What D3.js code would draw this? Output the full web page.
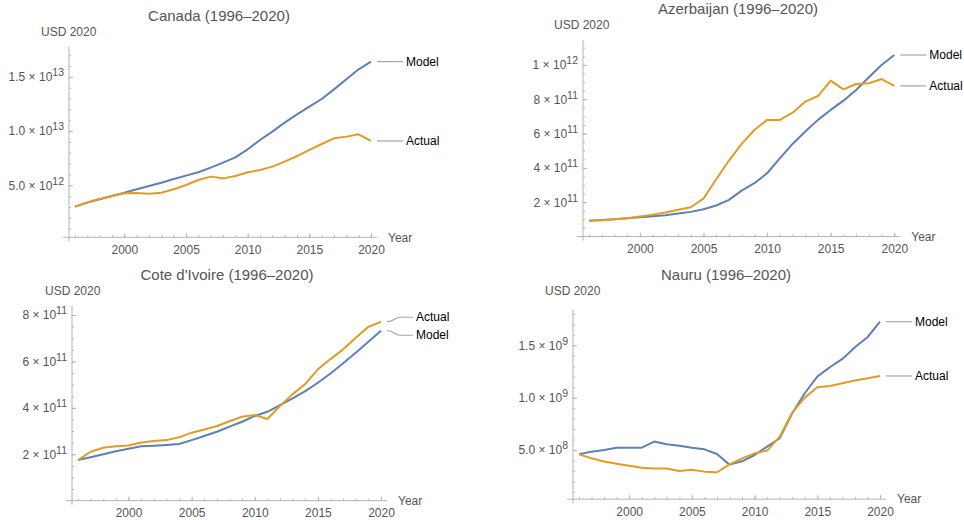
<!DOCTYPE html>
<meta charset="utf-8">
<style>
    body { margin: 0; background: #fff; }
    svg { font-family: 'Liberation Sans', Arial, sans-serif; }
    .title { font-size: 15px; fill: #555; text-anchor: middle; }
    .unit { font-size: 12px; fill: #555; }
    .tick text { font-size: 12px; fill: #555; }
    .tick line, .axisline { stroke: #b3b3b3; stroke-width: 1; }
    .series { fill: none; stroke-width: 2; stroke-linejoin: round; }
    .callout { fill: none; stroke: #a6a6a6; stroke-width: 1.2; }
    .lbl { font-size: 12px; fill: #000; }
</style>
<svg width="964" height="520"></svg>
<script src="https://d3js.org/d3.v7.min.js"></script>
<script>
    var years = [1996, 1997, 1998, 1999, 2000, 2001, 2002, 2003, 2004, 2005, 2006, 2007, 2008,
                 2009, 2010, 2011, 2012, 2013, 2014, 2015, 2016, 2017, 2018, 2019, 2020];
    var yearTicks = [2000, 2005, 2010, 2015, 2020];

    // Canada, USD
    var canadaModel = [3.03e12, 3.40e12, 3.71e12, 4.01e12, 4.32e12, 4.63e12, 4.94e12, 5.24e12, 5.58e12,
                       5.89e12, 6.20e12, 6.63e12, 7.09e12, 7.58e12, 8.32e12, 9.18e12, 9.95e12, 10.78e12,
                       11.55e12, 12.26e12, 12.96e12, 13.85e12, 14.78e12, 15.70e12, 16.41e12];
    var canadaActual = [3.03e12, 3.43e12, 3.74e12, 4.01e12, 4.26e12, 4.29e12, 4.23e12, 4.32e12, 4.63e12,
                        5.03e12, 5.49e12, 5.80e12, 5.64e12, 5.86e12, 6.20e12, 6.41e12, 6.72e12, 7.18e12,
                        7.70e12, 8.26e12, 8.81e12, 9.33e12, 9.49e12, 9.70e12, 9.09e12];

    // Azerbaijan, USD
    var azerModel = [0.93e11, 0.97e11, 1.01e11, 1.07e11, 1.13e11, 1.18e11, 1.24e11, 1.34e11, 1.44e11,
                     1.59e11, 1.81e11, 2.14e11, 2.68e11, 3.11e11, 3.69e11, 4.56e11, 5.40e11, 6.12e11,
                     6.80e11, 7.38e11, 7.92e11, 8.54e11, 9.28e11, 10.0e11, 10.58e11];
    var azerActual = [0.93e11, 0.95e11, 1.01e11, 1.07e11, 1.17e11, 1.28e11, 1.40e11, 1.57e11, 1.71e11,
                      2.21e11, 3.34e11, 4.43e11, 5.40e11, 6.21e11, 6.80e11, 6.80e11, 7.22e11, 7.86e11,
                      8.19e11, 9.09e11, 8.58e11, 8.89e11, 8.93e11, 9.18e11, 8.78e11];

    // Cote d'Ivoire, USD
    var coteModel = [1.75e11, 1.87e11, 2.00e11, 2.13e11, 2.24e11, 2.35e11, 2.37e11, 2.40e11, 2.44e11,
                     2.61e11, 2.79e11, 2.97e11, 3.19e11, 3.40e11, 3.65e11, 3.83e11, 4.12e11, 4.41e11,
                     4.72e11, 5.08e11, 5.48e11, 5.92e11, 6.37e11, 6.85e11, 7.32e11];
    var coteActual = [1.75e11, 2.11e11, 2.28e11, 2.35e11, 2.38e11, 2.51e11, 2.57e11, 2.61e11, 2.73e11,
                      2.93e11, 3.07e11, 3.22e11, 3.42e11, 3.62e11, 3.69e11, 3.52e11, 4.08e11, 4.59e11,
                      5.03e11, 5.66e11, 6.10e11, 6.52e11, 7.02e11, 7.49e11, 7.71e11];

    // Nauru, USD
    var nauruModel = [4.59e8, 4.84e8, 5.00e8, 5.22e8, 5.22e8, 5.22e8, 5.80e8, 5.54e8, 5.41e8,
                      5.22e8, 5.06e8, 4.62e8, 3.60e8, 3.92e8, 4.52e8, 5.32e8, 6.12e8, 8.50e8,
                      10.42e8, 12.01e8, 12.90e8, 13.70e8, 14.81e8, 15.77e8, 17.26e8];
    var nauruActual = [4.59e8, 4.20e8, 3.89e8, 3.69e8, 3.50e8, 3.31e8, 3.22e8, 3.22e8, 2.99e8,
                       3.12e8, 2.93e8, 2.87e8, 3.63e8, 4.20e8, 4.68e8, 4.94e8, 6.27e8, 8.57e8,
                       10.0e8, 10.99e8, 11.12e8, 11.37e8, 11.63e8, 11.85e8, 12.07e8];

    var modelColor = "#5e81b5",
        actualColor = "#e19c24";

    var panels = [
        { title: "Canada (1996\u20132020)", model: canadaModel, actual: canadaActual,
          x0: 75, x1: 371, yZero: 239.5, unit: 5e12, unitPx: 54.2, axisVal: 0.2e12, top: 1.78e13,
          major: [5e12, 1e13, 1.5e13], minorStep: 1e12, dec: 1,
          titleX: 219, titleY: 21, usdX: 41, usdY: 36 },
        { title: "Azerbaijan (1996\u20132020)", model: azerModel, actual: azerActual,
          x0: 589, x1: 894.3, yZero: 236.6, unit: 2e11, unitPx: 34.33, axisVal: 0, top: 1.146e12,
          major: [2e11, 4e11, 6e11, 8e11, 1e12], minorStep: 0.5e11, dec: 0,
          titleX: 738, titleY: 14, usdX: 554, usdY: 28.5 },
        { title: "Cote d'Ivoire (1996\u20132020)", model: coteModel, actual: coteActual,
          x0: 78, x1: 381, yZero: 500.7, unit: 2e11, unitPx: 46.43, axisVal: 0, top: 8.4e11,
          major: [2e11, 4e11, 6e11, 8e11], minorStep: 0.5e11, dec: 0,
          titleX: 227, titleY: 280, usdX: 45, usdY: 295 },
        { title: "Nauru (1996\u20132020)", model: nauruModel, actual: nauruActual,
          x0: 579, x1: 880, yZero: 502.3, unit: 5e8, unitPx: 52.33, axisVal: 3e7, top: 1.84e9,
          major: [5e8, 1e9, 1.5e9], minorStep: 1e8, dec: 1,
          titleX: 726, titleY: 280, usdX: 545, usdY: 295 }
    ];

    var svg = d3.select("svg");

    function sciLabel(sel, dec) {
        sel.each(function(v) {
            var e = Math.floor(Math.log10(v) + 1e-9);
            var m = v / Math.pow(10, e);
            var t = d3.select(this).text(null);
            t.append("tspan").text(m.toFixed(dec) + " \u00d7 10");
            t.append("tspan").attr("dy", "-5").style("font-size", "10.5px").text(e);
        });
    }

    function drawPanel(p) {
        var x = d3.scaleLinear().domain([1996, 2020]).range([p.x0, p.x1]);
        var y = d3.scaleLinear().domain([0, p.unit]).range([p.yZero, p.yZero - p.unitPx]);
        var g = svg.append("g");
        var ay = y(p.axisVal),
            ax = p.x0 - 6;

        // axis lines
        g.append("line").attr("class", "axisline")
            .attr("x1", p.x0 - 12).attr("x2", p.x1 + 6)
            .attr("y1", ay).attr("y2", ay);
        g.append("line").attr("class", "axisline")
            .attr("x1", ax).attr("x2", ax)
            .attr("y1", y(p.top)).attr("y2", ay + 4);

        // x ticks
        g.append("g").attr("transform", "translate(0," + ay + ")")
            .call(d3.axisBottom(x).tickValues(years).tickSize(-2).tickFormat(""));
        g.append("g").attr("transform", "translate(0," + ay + ")")
            .call(d3.axisBottom(x).tickValues(yearTicks).tickSize(-4).tickPadding(8).tickFormat(d3.format("d")));

        // y ticks
        var minorVals = [];
        for (var k = 1; k * p.minorStep <= p.top; k++) minorVals.push(k * p.minorStep);
        g.append("g").attr("transform", "translate(" + ax + ",0)")
            .call(d3.axisLeft(y).tickValues(minorVals).tickSize(-2).tickFormat(""));
        var majorY = g.append("g").attr("transform", "translate(" + ax + ",0)")
            .call(d3.axisLeft(y).tickValues(p.major).tickSize(-4).tickPadding(5));
        majorY.selectAll(".tick text").call(sciLabel, p.dec);

        g.selectAll(".domain").remove();
        g.selectAll(".tick text").attr("fill", null);
        g.selectAll(".tick line").attr("stroke", null);

        // series
        var line = d3.line()
            .x(function(d, i) { return x(years[i]); })
            .y(function(d) { return y(d); });
        g.append("path").attr("class", "series").attr("stroke", modelColor).attr("d", line(p.model));
        g.append("path").attr("class", "series").attr("stroke", actualColor).attr("d", line(p.actual));

        // callout labels
        var ends = [
            { name: "Model", y: y(p.model[p.model.length - 1]) },
            { name: "Actual", y: y(p.actual[p.actual.length - 1]) }
        ];
        ends.forEach(function(d) { d.ly = d.y; });
        if (Math.abs(ends[0].y - ends[1].y) < 18) {
            var mid = (ends[0].y + ends[1].y) / 2;
            var s = ends[0].y < ends[1].y ? -1 : 1;
            ends[0].ly = mid + s * 9;
            ends[1].ly = mid - s * 9;
        }
        var sx = p.x1 + 6;
        ends.forEach(function(d) {
            g.append("path").attr("class", "callout")
                .attr("d", "M" + sx + "," + d.y +
                    "C" + (sx + 8) + "," + d.y + " " + (sx + 6) + "," + d.ly + " " + (sx + 14) + "," + d.ly +
                    "L" + (sx + 26) + "," + d.ly);
            g.append("text").attr("class", "lbl")
                .attr("x", sx + 29).attr("y", d.ly).attr("dy", "0.35em")
                .text(d.name);
        });

        // titles
        g.append("text").attr("class", "title").attr("x", p.titleX).attr("y", p.titleY).text(p.title);
        g.append("text").attr("class", "unit").attr("x", p.usdX).attr("y", p.usdY).text("USD 2020");
        g.append("text").attr("class", "unit")
            .attr("x", p.x1 + 17).attr("y", ay).attr("dy", "0.35em").text("Year");
    }

    panels.forEach(drawPanel);
</script>
